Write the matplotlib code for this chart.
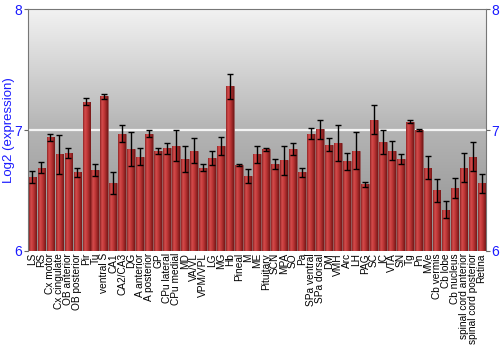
import numpy as np
import matplotlib
matplotlib.use("Agg")
import matplotlib.pyplot as plt
from matplotlib.colors import LinearSegmentedColormap

plt.rcParams["font.family"] = ["Liberation Sans", "DejaVu Sans"]

regions = ["LS", "RS", "Cx motor", "Cx cingulate", "OB anterior", "OB posterior", "Pir", "Tu",
           "ventral S", "CA1", "CA2/CA3", "DG", "A anterior", "A posterior", "GP", "CPu lateral",
           "CPu medial", "MD", "VA/VL", "VPM/VPL", "LG", "MG", "Hb", "Pineal", "M", "ME",
           "Pituitary", "SCN", "MPA", "SO", "Pa", "SPa ventral", "SPa dorsal", "DM", "VMH", "Arc",
           "LH", "PAG", "SC", "IC", "VTA", "SN", "Tg", "Pn", "MVe", "Cb vermis", "Cb lobe",
           "Cb nucleus", "spinal cord anterior", "spinal cord posterior", "Retina"]
expr = [6.61, 6.69, 6.94, 6.80, 6.81, 6.65, 7.235, 6.67,
        7.28, 6.56, 6.97, 6.84, 6.78, 6.97, 6.83, 6.85,
        6.87, 6.76, 6.83, 6.69, 6.77, 6.87, 7.36, 6.71, 6.62, 6.80,
        6.84, 6.72, 6.75, 6.84, 6.65, 6.97, 7.005, 6.88, 6.89, 6.74,
        6.83, 6.55, 7.085, 6.90, 6.83, 6.76, 7.07, 7.00, 6.69, 6.50, 6.34,
        6.52, 6.69, 6.78, 6.56]
err = [0.05, 0.045, 0.03, 0.16, 0.045, 0.04, 0.03, 0.05,
       0.02, 0.09, 0.07, 0.14, 0.07, 0.03, 0.025, 0.045,
       0.13, 0.11, 0.10, 0.025, 0.06, 0.075, 0.10, 0.01, 0.06, 0.07,
       0.015, 0.04, 0.12, 0.05, 0.04, 0.047, 0.08, 0.05, 0.15, 0.07,
       0.15, 0.02, 0.12, 0.10, 0.08, 0.045, 0.015, 0.01, 0.095, 0.095, 0.07,
       0.08, 0.12, 0.12, 0.08]

blue = "#1a1aff"
fig = plt.figure(figsize=(5, 3.5), dpi=100)
ax = fig.add_axes([0.056, 0.283, 0.916, 0.691])
x = np.arange(len(regions))
ax.set_xlim(-0.5, len(regions) - 0.5)
ax.set_ylim(6, 8)

# gray gradient background
bg = LinearSegmentedColormap.from_list("bg", ["#8e8e8e", "#b4b4b4", "#f2f2f2"])
ax.imshow(np.linspace(0, 1, 256).reshape(-1, 1), cmap=bg, origin="lower", aspect="auto",
          extent=(-0.5, len(regions) - 0.5, 6, 8), zorder=0)
ax.axhline(7, color="#f4f4f4", lw=1.6, zorder=1)

# bars with cylindrical red shading
shade = LinearSegmentedColormap.from_list("shade", ["#8e2424", "#d44c4c", "#c43a3a", "#a02828", "#741818"])
grad = np.linspace(0, 1, 64).reshape(1, -1)
w = 0.86
bars = ax.bar(x, np.array(expr) - 6, bottom=6, width=w, color="#b83232", edgecolor="#8a5a5a",
              lw=0.5, zorder=2)
for b in bars:
    x0 = b.get_x()
    im = ax.imshow(grad, cmap=shade, aspect="auto", zorder=2.5,
                   extent=(x0, x0 + b.get_width(), 6, 6 + b.get_height()))
    im.set_clip_path(b)
ax.errorbar(x, expr, yerr=err, fmt="none", ecolor="black", elinewidth=1, capsize=2.5,
            capthick=1, zorder=3)

ax.set_xticks(x)
ax.set_xticklabels(regions, rotation=90, fontsize=7.3)
ax.tick_params(axis="x", length=0, pad=1.5)
ax.set_yticks([6, 7, 8])
ax.tick_params(axis="y", colors="#666666", labelcolor=blue, labelsize=10, length=3, pad=1,
               right=True, labelright=True)
ax.set_ylabel("Log2 (expression)", color=blue, fontsize=9.5, labelpad=0)
for s in ["left", "right", "top"]:
    ax.spines[s].set_color("#777777")
ax.spines["bottom"].set_visible(False)

fig.savefig("out.png", dpi=100)
